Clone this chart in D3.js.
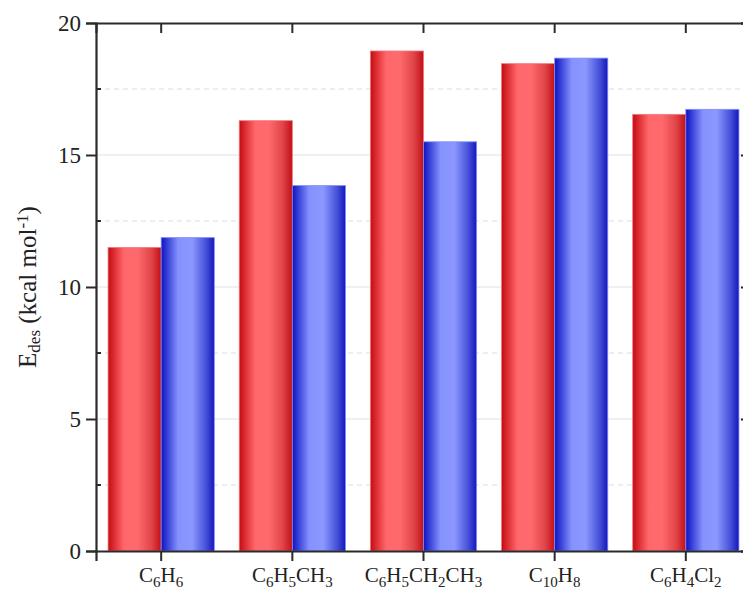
<!DOCTYPE html>
<html>
<head>
<meta charset="utf-8">
<script src="https://cdn.jsdelivr.net/npm/d3@7"></script>
<style>
  html, body { margin: 0; padding: 0; background: #ffffff; }
  svg { display: block; }
  text { font-family: "Liberation Serif", "DejaVu Serif", serif; fill: #222; }
</style>
</head>
<body>
<svg id="chart" width="743" height="594"></svg>
<script>
// Desorption energies (kcal/mol) for each aromatic adsorbate, two series
const categories = ["C6H6", "C6H5CH3", "C6H5CH2CH3", "C10H8", "C6H4Cl2"];
const seriesRed  = [11.50, 16.30, 18.94, 18.46, 16.54];
const seriesBlue = [11.87, 13.84, 15.50, 18.67, 16.73];
const seriesKeys = ["red", "blue"];
const yMajorTicks = [0, 5, 10, 15, 20];
const yMinorTicks = [2.5, 7.5, 12.5, 17.5];

const svg = d3.select("#chart");
const plot = { left: 96, right: 751, top: 23, bottom: 551 };

const x = d3.scaleBand()
  .domain(categories)
  .range([plot.left, plot.right])
  .paddingInner(0.19)
  .paddingOuter(0.092);

const xInner = d3.scaleBand()
  .domain(seriesKeys)
  .range([0, x.bandwidth()]);

const y = d3.scaleLinear().domain([0, 20]).range([plot.bottom, plot.top]);

// Cylinder-like shading for the bars
const defs = svg.append("defs");
function shade(id, stops) {
  const g = defs.append("linearGradient").attr("id", id)
    .attr("x1", "0%").attr("x2", "100%").attr("y1", "0%").attr("y2", "0%");
  stops.forEach(([o, c]) => g.append("stop").attr("offset", o).attr("stop-color", c));
}
shade("grad-red", [
  ["0%", "#c20c14"], ["8%", "#d62329"], ["30%", "#ff676b"], ["55%", "#ff6a6e"],
  ["82%", "#e04448"], ["100%", "#c30f16"]
]);
shade("grad-blue", [
  ["0%", "#1212bd"], ["8%", "#2a32d2"], ["32%", "#8592fd"], ["58%", "#8c98ff"],
  ["84%", "#4552d8"], ["100%", "#1616bd"]
]);

// Grid lines
const grid = svg.append("g");
grid.selectAll("line.major").data(yMajorTicks.filter(v => v > 0 && v < 20)).join("line")
  .attr("x1", plot.left).attr("x2", plot.right)
  .attr("y1", d => y(d)).attr("y2", d => y(d))
  .attr("stroke", "#e2e2e2").attr("stroke-width", 1.2);
grid.selectAll("line.minor").data(yMinorTicks).join("line")
  .attr("x1", plot.left).attr("x2", plot.right)
  .attr("y1", d => y(d)).attr("y2", d => y(d))
  .attr("stroke", "#dcdcdc").attr("stroke-width", 1)
  .attr("stroke-dasharray", "5,4");

// Bars
const rows = categories.map((c, i) => ({ cat: c, red: seriesRed[i], blue: seriesBlue[i] }));
const groups = svg.append("g").selectAll("g").data(rows).join("g")
  .attr("transform", d => `translate(${x(d.cat)},0)`);
groups.selectAll("rect").data(d => seriesKeys.map(k => ({ key: k, value: d[k] }))).join("rect")
  .attr("x", d => xInner(d.key))
  .attr("width", xInner.bandwidth())
  .attr("y", d => y(d.value))
  .attr("height", d => y(0) - y(d.value))
  .attr("fill", d => `url(#grad-${d.key})`)
  .attr("stroke", d => d.key === "red" ? "#f27a7c" : "#7e8cf6")
  .attr("stroke-width", 0.8);

// Axes
const axisColor = "#2b2b2b";
const yAxis = d3.axisLeft(y).tickValues(yMajorTicks).tickSize(10).tickPadding(5);
const gy = svg.append("g").attr("transform", `translate(${plot.left},0)`).call(yAxis);
gy.selectAll("text").style("font-size", "23px").attr("fill", "#222");
// minor ticks point inward
gy.selectAll("line.minor").data(yMinorTicks).join("line")
  .attr("x1", 0).attr("x2", 5).attr("y1", d => y(d)).attr("y2", d => y(d))
  .attr("stroke", axisColor).attr("stroke-width", 2);

const yRight = d3.axisLeft(y).tickValues(yMajorTicks).tickSize(10).tickFormat("");
svg.append("g").attr("transform", `translate(${plot.right},0)`).call(yRight);

const xAxis = d3.axisBottom(x).tickSize(10).tickFormat("");
svg.append("g").attr("transform", `translate(0,${plot.bottom})`).call(xAxis);
const xTop = d3.axisBottom(x).tickSize(10).tickFormat("");
svg.append("g").attr("transform", `translate(0,${plot.top})`).call(xTop);

svg.selectAll(".domain").attr("stroke", axisColor).attr("stroke-width", 2.2);
svg.selectAll(".tick line").attr("stroke", axisColor).attr("stroke-width", 2);

// Category labels with numeric subscripts
const labels = svg.append("g").selectAll("text").data(categories).join("text")
  .attr("x", d => x(d) + x.bandwidth() / 2)
  .attr("y", plot.bottom + 31)
  .attr("text-anchor", "middle")
  .style("font-size", "21px");
labels.each(function (d) {
  const t = d3.select(this);
  d.match(/[A-Za-z]+|\d+/g).forEach(part => {
    const isNum = /^\d+$/.test(part);
    t.append("tspan")
      .text(part)
      .style("font-size", isNum ? "15px" : "21px")
      .attr("baseline-shift", isNum ? "-35%" : null);
  });
});

// Y axis title
const title = svg.append("text")
  .attr("transform", `translate(36,${(plot.top + plot.bottom) / 2}) rotate(-90)`)
  .attr("text-anchor", "middle")
  .style("font-size", "25px");
title.append("tspan").text("E");
title.append("tspan").text("des").style("font-size", "17px").attr("baseline-shift", "-25%");
title.append("tspan").text(" (kcal mol");
title.append("tspan").text("-1").style("font-size", "17px").attr("baseline-shift", "45%");
title.append("tspan").text(")");
</script>
</body>
</html>
